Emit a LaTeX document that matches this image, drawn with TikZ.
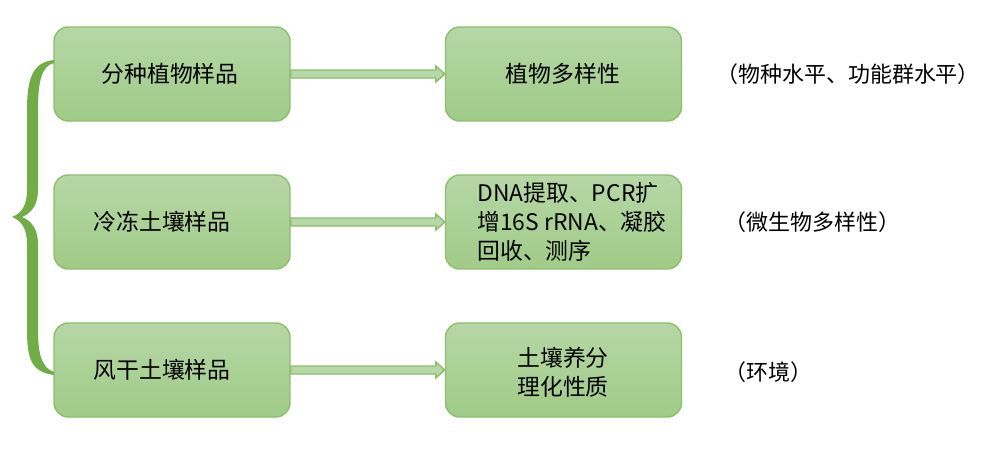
\documentclass[tikz,border=0pt]{standalone}
\usepackage{fontspec}
\setmainfont{Noto Sans CJK SC}
\usepackage{tikz}
\usetikzlibrary{calc, positioning}
\definecolor{boxtop}{HTML}{B6D7A6}
\definecolor{boxbot}{HTML}{A0CB87}
\definecolor{boxline}{HTML}{8CBF6C}
\definecolor{bracegreen}{HTML}{70AD47}

\begin{document}
\begin{tikzpicture}[x=0.02cm, y=-0.02cm,
    sample/.style={draw=boxline, line width=0.8pt, top color=boxtop, bottom color=boxbot,
                   rounded corners=8pt, minimum width=4.72cm, minimum height=1.88cm},
    boxtext/.style={font=\fontsize{13}{16.5}\selectfont, align=center, inner sep=0pt},
    note/.style={font=\fontsize{12.5}{15}\selectfont, anchor=west, inner sep=0pt},
    flow/.style={draw=boxline, line width=0.8pt, fill=boxtop},
]
    \useasboundingbox (0,0) rectangle (999,457);

    % left column
    \node[sample] (plant) at (172, 74) {};
    \node[sample] (frozen) at (172, 222) {};
    \node[sample] (dried) at (172, 370) {};
    \node[boxtext] (plantT) at (170, 74) {分种植物样品};
    \node[boxtext] (frozenT) at (162, 222) {冷冻土壤样品};
    \node[boxtext] (driedT) at (162, 370) {风干土壤样品};

    % right column
    \node[sample] (div) at (563.5, 74) {};
    \node[sample] (dna) at (563.5, 222) {};
    \node[sample] (soil) at (563.5, 370) {};
    \node[boxtext] (divT) at (563, 74) {植物多样性};
    \node[boxtext, align=left, anchor=west] (dnaT) at (477, 222) {DNA提取、PCR扩\\增16S rRNA、凝胶\\回收、测序};
    \node[boxtext] (soilT) at (563, 372) {土壤养分\\理化性质};

    % notes
    \node[note] (divN) at (716, 74) {（物种水平、功能群水平）};
    \node[note] (dnaN) at (724, 222) {（微生物多样性）};
    \node[note] (soilN) at (724, 372) {（环境）};

    % block arrows
    \foreach \a/\b in {plant/div, frozen/dna, dried/soil} {
        \draw[flow] ($(\a.east)+(0,-4)$) -- ($(\b.west)+(-9,-4)$) -- ($(\b.west)+(-9,-8)$)
            -- (\b.west) -- ($(\b.west)+(-9,8)$) -- ($(\b.west)+(-9,4)$)
            -- ($(\a.east)+(0,4)$) -- cycle;
    }

    % brace
    \fill[bracegreen] (54,60) .. controls (32,62) and (27,80) .. (27,110) -- (27,190)
        .. controls (27,205) and (22,213) .. (12,217) .. controls (22,221) and (27,229) .. (27,244)
        -- (27,330) .. controls (27,360) and (32,372) .. (54,375)
        -- (54,372) .. controls (42,368) and (38,355) .. (38,330) -- (38,244)
        .. controls (38,230) and (32,221) .. (22,217) .. controls (32,213) and (38,204) .. (38,190)
        -- (38,110) .. controls (38,80) and (42,66) .. (54,63) -- cycle;
\end{tikzpicture}
\end{document}
